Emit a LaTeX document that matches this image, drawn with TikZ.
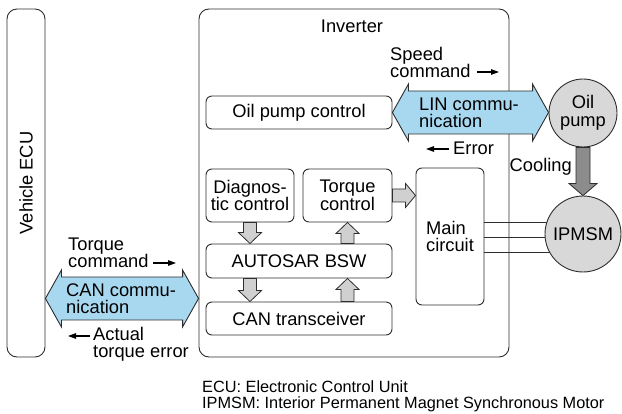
\documentclass[tikz,border=0pt]{standalone}
\usepackage{fontspec}
\setmainfont{Liberation Sans}
\usetikzlibrary{calc,arrows.meta,backgrounds}

\definecolor{edge}{RGB}{45,45,45}
\definecolor{commblue}{RGB}{168,216,240}
\definecolor{blockgray}{RGB}{208,208,208}
\definecolor{motorgray}{RGB}{216,216,216}
\definecolor{coolgray}{RGB}{140,140,140}

% vertical block arrow: style, from, to, shaft half width, head half width, head length
\newcommand\vfat[6]{%
  \path[#1] let \p1=(#2), \p2=(#3), \n1={sign(\y2-\y1)}, \n2={\y2-(\n1)*#6} in
    ({\x1-#4},\y1) -- ({\x1-#4},\n2) -- ({\x1-#5},\n2) -- (\x1,\y2)
    -- ({\x1+#5},\n2) -- ({\x1+#4},\n2) -- ({\x1+#4},\y1) -- cycle;}
% horizontal block arrow, same arguments
\newcommand\hfat[6]{%
  \path[#1] let \p1=(#2), \p2=(#3), \n1={sign(\x2-\x1)}, \n2={\x2-(\n1)*#6} in
    (\x1,{\y1-#4}) -- (\n2,{\y1-#4}) -- (\n2,{\y1-#5}) -- (\x2,\y1)
    -- (\n2,{\y1+#5}) -- (\n2,{\y1+#4}) -- (\x1,{\y1+#4}) -- cycle;}
% wide two-headed bus arrow between two points on one row
\newcommand\dblarrow[2]{%
  \path[comm] let \p1=(#1), \p2=(#2) in
    (\x1,\y1) -- ({\x1+16pt},{\y1+28.5pt}) -- ({\x1+16pt},{\y1+21.5pt})
    -- ({\x2-16pt},{\y1+21.5pt}) -- ({\x2-16pt},{\y1+28.5pt}) -- (\x2,\y1)
    -- ({\x2-16pt},{\y1-28.5pt}) -- ({\x2-16pt},{\y1-21.5pt})
    -- ({\x1+16pt},{\y1-21.5pt}) -- ({\x1+16pt},{\y1-28.5pt}) -- cycle;}

\begin{document}
\begin{tikzpicture}[x=1pt,y=-1pt,
  txt/.style={font=\fontsize{18.3}{17.5}\selectfont, inner sep=0pt},
  box/.style={draw=edge, line width=0.9pt, rounded corners=6pt, inner sep=0pt, txt, align=center},
  bigbox/.style={box, rounded corners=10pt},
  motor/.style={circle, draw=edge, line width=0.9pt, fill=motorgray, inner sep=0pt, txt, align=center},
  swarrow/.style={draw=edge, line width=0.8pt, fill=blockgray, line join=miter},
  coolarrow/.style={draw=edge, line width=0.8pt, fill=coolgray, line join=miter},
  comm/.style={draw=edge, line width=0.9pt, fill=commblue, line join=miter},
  tag/.style={txt, align=left},
  tagarrow/.style={draw=black, line width=1.2pt, -{Triangle[length=8pt,width=5.5pt]}},
  wire/.style={draw=edge, line width=0.9pt}]

\useasboundingbox (0,0) rectangle (622,414);

% outer units
\node[bigbox, minimum width=38, minimum height=348] (ecu) at (26,183) {};
\node[txt, rotate=90] (ecutext) at (ecu.center) {Vehicle ECU};
\node[bigbox, minimum width=310, minimum height=348] (inv) at (354,183) {};
\node[txt, anchor=base] (invtext) at (352,33) {Inverter};

% inverter internals
\node[box, minimum width=186, minimum height=33] (opc) at (299,112.5) {Oil pump control};
\node[box, minimum width=88, minimum height=53] (diag) at (250,195.5) {Diagnos-\\tic control};
\node[box, minimum width=89, minimum height=53] (tq) at (347.5,195.5) {Torque\\control};
\node[box, minimum width=186, minimum height=34] (bsw) at (299,261) {AUTOSAR BSW};
\node[box, minimum width=186, minimum height=33] (cant) at (299,318.5) {CAN transceiver};
\node[box, align=left, minimum width=68, minimum height=137] (main) at (450,236.5) {Main\\circuit};

% machines
\node[motor, minimum size=68] (oilpump) at (583,113) {Oil\\pump};
\node[motor, minimum size=76] (ipmsm) at (583,234) {IPMSM};

% three-phase wiring, behind the motor disc
\begin{scope}[on background layer]
  \foreach \wy in {222,237,252}
    \draw[wire] (main.east |- 0,\wy) -- (ipmsm.center |- 0,\wy);
\end{scope}

% software stack data flow
\vfat{swarrow}{diag.south}{diag.south |- bsw.north}{6.5pt}{11.5pt}{11pt}
\vfat{swarrow}{bsw.south -| diag.south}{cant.north -| diag.south}{6.5pt}{11.5pt}{11pt}
\vfat{swarrow}{cant.north -| tq.south}{bsw.south -| tq.south}{6.5pt}{11.5pt}{11pt}
\vfat{swarrow}{bsw.north -| tq.south}{tq.south}{6.5pt}{11.5pt}{11pt}
\hfat{swarrow}{tq.east}{main.west |- tq.east}{6.5pt}{12pt}{10pt}

% cooling
\vfat{coolarrow}{oilpump.south}{ipmsm.north}{7pt}{14pt}{12pt}
\node[tag, anchor=base east] (cool) at (572,172) {Cooling};

% communication buses
\coordinate (canrow) at (122,298.5);
\dblarrow{ecu.east |- canrow}{inv.west |- canrow}
\dblarrow{opc.east}{oilpump.west |- opc.east}
\node[tag, anchor=base west] (lintext) at (419,128) {LIN commu-\\nication};
\node[tag, anchor=base west] (cantext) at (66,314) {CAN commu-\\nication};

% signal labels
\node[tag, anchor=base west] (speed) at (390,78) {Speed\\command};
\coordinate (speedA) at (477,72);
\coordinate (speedB) at (499,72);
\draw[tagarrow] (speedA) -- (speedB);

\node[tag, anchor=base west] (err) at (453,155) {Error};
\coordinate (errA) at (449,149);
\coordinate (errB) at (426,149);
\draw[tagarrow] (errA) -- (errB);

\node[tag, anchor=base west] (tqcmd) at (68,268) {Torque\\command};
\coordinate (tqA) at (153,263);
\coordinate (tqB) at (176,263);
\draw[tagarrow] (tqA) -- (tqB);

\node[tag, anchor=base west] (acterr) at (93,358) {Actual\\torque error};
\coordinate (actA) at (90,336);
\coordinate (actB) at (68,336);
\draw[tagarrow] (actA) -- (actB);

% legend
\node[anchor=base west, inner sep=0pt, align=left, font=\fontsize{16.3}{15.5}\selectfont] (note) at (202,408.5)
  {ECU: Electronic Control Unit\\IPMSM: Interior Permanent Magnet Synchronous Motor};

\end{tikzpicture}
\end{document}
